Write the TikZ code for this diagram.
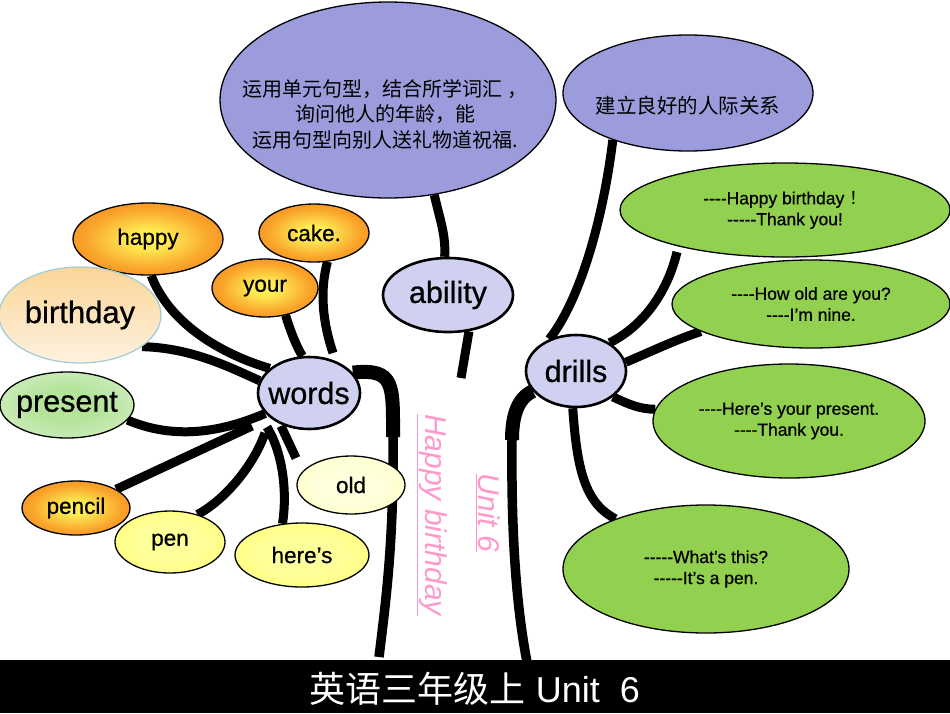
\documentclass[tikz,border=0pt]{standalone}
\usepackage{fontspec}
\setmainfont{Liberation Sans}[FakeBold=0.7]
\newfontfamily\plainsans{Liberation Sans}
\newfontfamily\cjk{Noto Sans CJK SC}
\usetikzlibrary{shapes.geometric}
\pgfdeclarelayer{bg}
\pgfsetlayers{bg,main}
\definecolor{bigpurple}{HTML}{9C9CDC}
\definecolor{lav}{HTML}{D0D0F0}
\definecolor{grn}{HTML}{92D050}
\definecolor{orng}{HTML}{F37A1F}
\definecolor{orngmid}{HTML}{F9A42A}
\definecolor{yelo}{HTML}{FFEC55}
\definecolor{penyel}{HTML}{FFFF5E}
\definecolor{penyelin}{HTML}{FFFF9A}
\definecolor{oldyel}{HTML}{FFFFB4}
\definecolor{oldyelin}{HTML}{FFFFDC}
\definecolor{peachtop}{HTML}{FBD597}
\definecolor{peachbot}{HTML}{FEF2E0}
\definecolor{peachborder}{HTML}{A6CDD6}
\definecolor{presin}{HTML}{B4E39A}
\definecolor{presout}{HTML}{EAF8E3}
\definecolor{pinktxt}{HTML}{FF99CC}
\pgfdeclareradialshading{orangeglow}{\pgfpoint{0bp}{0bp}}{color(0bp)=(yelo); color(6bp)=(yelo); color(21bp)=(orngmid); color(38bp)=(orng); color(50bp)=(orng)}
\pgfdeclareradialshading{yellowglow}{\pgfpoint{0bp}{0bp}}{color(0bp)=(penyelin); color(15bp)=(penyelin); color(45bp)=(penyel); color(50bp)=(penyel)}
\pgfdeclareradialshading{paleglow}{\pgfpoint{0bp}{0bp}}{color(0bp)=(oldyelin); color(15bp)=(oldyelin); color(45bp)=(oldyel); color(50bp)=(oldyel)}
\pgfdeclareradialshading{greenglow}{\pgfpoint{0bp}{0bp}}{color(0bp)=(presin); color(12bp)=(presin); color(46bp)=(presout); color(50bp)=(presout)}
\newcommand\mb[1]{\makebox[0pt]{#1}}
\newcommand\hy{\mbox{-}}
\begin{document}
\begin{tikzpicture}[x=1pt,y=-1pt,
  oval/.style={ellipse, draw=black, line width=1.3pt, inner sep=0pt},
  hub/.style={oval, fill=lav, line width=2.6pt, font=\fontsize{30.5}{34}\selectfont},
  orangeoval/.style={oval, shade, shading=orangeglow, font=\fontsize{22.5}{27}\selectfont},
  penoval/.style={oval, shade, shading=yellowglow, font=\fontsize{22.5}{27}\selectfont},
  greenoval/.style={oval, fill=grn, align=center, font=\fontsize{17.5}{21}\selectfont},
  branch/.style={line width=9pt, draw=black},
  thicktrunk/.style={line width=14pt, draw=black},
  thintrunk/.style={line width=9.5pt, draw=black},
  vtext/.style={rotate=-90, text=pinktxt, font=\plainsans\fontsize{30}{36}\selectfont\itshape},
]
\useasboundingbox (0,0) rectangle (950,713);

% top purple ellipses
\node[oval, fill=bigpurple, minimum width=336pt, minimum height=196pt] (aim) at (388,100) {};
\node[align=center, font=\cjk\fontsize{20}{25.5}\selectfont] (aimtext) at (385,114)
  {运用单元句型，结合所学词汇 ，\\询问他人的年龄，能\\运用句型向别人送礼物道祝福.};
\node[oval, fill=bigpurple, minimum width=250pt, minimum height=116pt] (rel) at (688,93) {};
\node[font=\cjk\fontsize{20.5}{24}\selectfont] (reltext) at (688,106) {建立良好的人际关系};

% green dialogue ellipses
\node[greenoval, minimum width=330pt, minimum height=94pt] (g1) at (785,210)
  {\hy\hy\hy\hy Happy birthday {\cjk ！}\\\hy\hy\hy\hy\hy Thank you!};
\node[greenoval, minimum width=278pt, minimum height=88pt] (g2) at (811,304)
  {\hy\hy\hy\hy How old are you?\\\hy\hy\hy\hy I’m nine.};
\node[greenoval, minimum width=272pt, minimum height=114pt] (g3) at (789,421)
  {\hy\hy\hy\hy Here’s your present.\\\hy\hy\hy\hy Thank you.};
\node[greenoval, minimum width=286pt, minimum height=128pt] (g4) at (706,569)
  {\hy\hy\hy\hy\hy What’s this?\\\hy\hy\hy\hy\hy It’s a pen.};

% hubs
\node[hub, minimum width=102pt, minimum height=72pt] (words) at (309,393) {\mb{words}};
\node[hub, minimum width=130pt, minimum height=74pt] (ability) at (448,295) {\mb{ability}};
\node[hub, minimum width=100pt, minimum height=72pt] (drills) at (576,371) {\mb{drills}};

% word ellipses
\node[orangeoval, minimum width=150pt, minimum height=72pt] (happy) at (148,239) {\mb{happy}};
\node[orangeoval, minimum width=110pt, minimum height=58pt] (cake) at (314,233) {\mb{cake.}};
\node[orangeoval, minimum width=106pt, minimum height=58pt] (your) at (265,288) {\mb{your}};
\node[orangeoval, minimum width=108pt, minimum height=54pt] (pencil) at (76,508) {\mb{pencil}};
\node[penoval, minimum width=110pt, minimum height=62pt] (pen) at (170,542) {\mb{pen}};
\node[penoval, minimum width=134pt, minimum height=64pt] (heres) at (302,555) {\mb{here’s}};
\node[oval, shade, shading=paleglow, font=\fontsize{22.5}{27}\selectfont,
  minimum width=108pt, minimum height=58pt] (old) at (351,485) {\mb{old}};
\node[oval, draw=peachborder, top color=peachtop, bottom color=peachbot,
  font=\fontsize{31}{35}\selectfont, minimum width=162pt, minimum height=96pt] (birthday) at (80,315) {\mb{birthday}};
\node[oval, shade, shading=greenglow,
  font=\fontsize{30.5}{35}\selectfont, minimum width=134pt, minimum height=66pt] (present) at (67,405) {\mb{present}};

% vertical titles
\node[vtext] (hb) at (432,515) {\underline{Happy birthday}};
\node[vtext] (u6) at (488,513) {\underline{Unit 6}};

% free ends
\coordinate (pencilend) at (252,426);
\coordinate (penend) at (265,433);
\coordinate (heresend) at (267,427);
\coordinate (oldA) at (296,458);
\coordinate (oldB) at (281,426);
\coordinate (cakeend) at (333,353);
\coordinate (abend) at (461,378);
\coordinate (g1end) at (677,252);
\coordinate (tL1) at (393,437);
\coordinate (tL2) at (379,657);
\coordinate (tR1) at (512,440);
\coordinate (tR2) at (527,662);

\begin{pgfonlayer}{bg}
  \draw[branch] (happy.-85) .. controls (168,320) and (215,352) .. (words.148);
  \draw[branch] (birthday.-27) .. controls (190,348) and (225,365) .. (words.166);
  \draw[branch] (present.-14) .. controls (170,438) and (215,435) .. (words.205);
  \draw[branch] (pencil.25) -- (pencilend);
  \draw[branch] (pen.45) .. controls (228,498) and (255,462) .. (penend);
  \draw[branch] (heres.122) .. controls (287,495) and (284,455) .. (heresend);
  \draw[branch] (oldA) -- (oldB);
  \draw[branch] (your.-53) .. controls (290,330) and (297,348) .. (words.100);
  \draw[branch] (cake.-65) .. controls (320,290) and (322,320) .. (cakeend);
  \draw[branch] (aim.-64) .. controls (440,220) and (446,235) .. (ability.95);
  \draw[branch] (ability.-60) -- (abend);
  \draw[thicktrunk] (words.25) .. controls (395,368) and (393,385) .. (tL1);
  \draw[thintrunk] (tL1) .. controls (394,540) and (386,600) .. (tL2);
  \draw[thicktrunk] (drills.205) .. controls (518,398) and (512,415) .. (tR1);
  \draw[thintrunk] (tR1) .. controls (511,540) and (517,610) .. (tR2);
  \draw[branch] (drills.130) .. controls (580,300) and (603,220) .. (rel.212);
  \draw[branch] (drills.40) .. controls (645,325) and (668,290) .. (g1end);
  \draw[branch] (drills.10) .. controls (650,352) and (675,340) .. (g2.194);
  \draw[branch] (drills.-35) .. controls (630,405) and (640,409) .. (g3.175);
  \draw[branch] (drills.-95) .. controls (577,470) and (585,503) .. (g4.151);
\end{pgfonlayer}

% bottom bar
\fill[black] (0,660) rectangle (950,713);
\node[text=white, font=\plainsans\fontsize{36}{40}\selectfont, anchor=base] (title) at (475,702)
  {{\cjk 英语三年级上} Unit\ \ 6};
\end{tikzpicture}
\end{document}
